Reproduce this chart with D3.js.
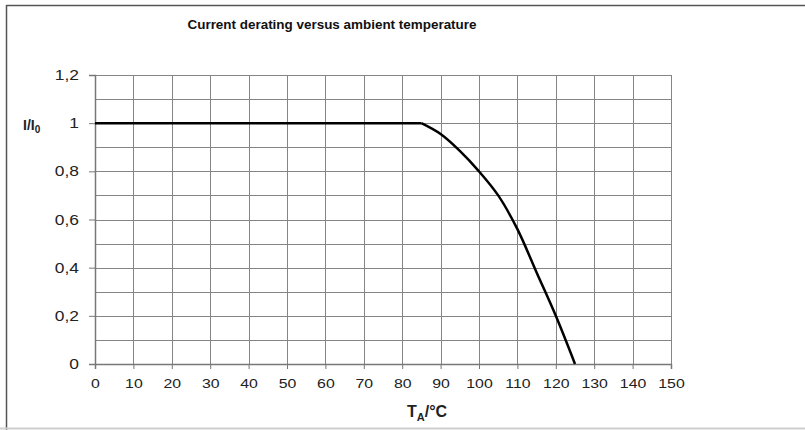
<!DOCTYPE html>
<html>
<head>
<meta charset="utf-8">
<script src="https://cdn.jsdelivr.net/npm/d3@7"></script>
<style>
  html, body { margin: 0; padding: 0; background: #fff; }
  svg { display: block; }
</style>
</head>
<body>
<svg id="chart" width="805" height="430"></svg>
<script>
// ---- data ----
const temperature = [0, 85, 90, 95, 100, 105, 110, 115, 120, 125];
const derating    = [1, 1, 0.955, 0.885, 0.80, 0.70, 0.56, 0.38, 0.2, 0];
const xTickValues = [0, 10, 20, 30, 40, 50, 60, 70, 80, 90, 100, 110, 120, 130, 140, 150];
const yTickValues = [0, 0.2, 0.4, 0.6, 0.8, 1, 1.2];
const yTickLabels = ["0", "0,2", "0,4", "0,6", "0,8", "1", "1,2"];
const titleText = "Current derating versus ambient temperature";

const W = 805, H = 430;
const svg = d3.select("#chart");

svg.append("rect").attr("width", W).attr("height", H).attr("fill", "#fff");

// frame
svg.append("line").attr("x1", 6.5).attr("x2", W).attr("y1", 5.5).attr("y2", 5.5)
  .attr("stroke", "#555").attr("stroke-width", 1.5);
svg.append("line").attr("x1", 6.5).attr("x2", 6.5).attr("y1", 5).attr("y2", H)
  .attr("stroke", "#555").attr("stroke-width", 1.5);
svg.append("line").attr("x1", 0).attr("x2", W).attr("y1", 428.5).attr("y2", 428.5)
  .attr("stroke", "#cfcfcf").attr("stroke-width", 2);

const x = d3.scaleLinear().domain([0, 150]).range([95, 671]);
const y = d3.scaleLinear().domain([0, 1.2]).range([364, 75]);

// grid
const gridColor = "#858585";
const g = svg.append("g");
g.selectAll("line.vg").data(d3.range(0, 151, 10)).enter().append("line")
  .attr("x1", d => Math.round(x(d)) + 0.5).attr("x2", d => Math.round(x(d)) + 0.5)
  .attr("y1", y(1.2)).attr("y2", y(0))
  .attr("stroke", gridColor).attr("stroke-width", 1);
g.selectAll("line.hg").data(d3.range(0, 13).map(i => i / 10)).enter().append("line")
  .attr("x1", x(0)).attr("x2", x(150))
  .attr("y1", d => Math.round(y(d)) + 0.5).attr("y2", d => Math.round(y(d)) + 0.5)
  .attr("stroke", gridColor).attr("stroke-width", 1);

// axes
const xAxis = d3.axisBottom(x).tickValues(xTickValues).tickSize(5).tickPadding(10)
  .tickFormat(d3.format("d"));
const gx = svg.append("g").attr("transform", `translate(0,${y(0)})`).call(xAxis);
gx.select(".domain").attr("stroke", "#777").attr("stroke-width", 1.5);
gx.selectAll(".tick line").attr("stroke", "#777");
gx.selectAll(".tick text")
  .attr("font-family", "Liberation Sans, Arial, sans-serif").attr("font-size", 13)
  .attr("fill", "#222").attr("dy", "0.71em")
  .attr("transform", "scale(1.22,1)");

const yAxis = d3.axisLeft(y).tickValues(yTickValues).tickSize(6).tickPadding(10)
  .tickFormat((d, i) => yTickLabels[i]);
const gy = svg.append("g").attr("transform", `translate(${x(0)},0)`).call(yAxis);
gy.select(".domain").attr("stroke", "#777").attr("stroke-width", 1.5);
gy.selectAll(".tick line").attr("stroke", "#777");
gy.selectAll(".tick text")
  .attr("font-family", "Liberation Sans, Arial, sans-serif").attr("font-size", 14.5)
  .attr("fill", "#222")
  .attr("x", -16 / 1.2)
  .attr("transform", "scale(1.2,1)");

// curve
const pts = temperature.map((t, i) => [t, derating[i]]);
const flat = pts.filter(p => p[0] <= 85);
const decline = pts.filter(p => p[0] >= 85);
const lineLin = d3.line().x(d => x(d[0])).y(d => y(d[1]));
const lineSmooth = d3.line().x(d => x(d[0])).y(d => y(d[1])).curve(d3.curveCatmullRom.alpha(0.5));
svg.append("path").attr("d", lineLin(flat)).attr("fill", "none")
  .attr("stroke", "#000").attr("stroke-width", 2.5);
svg.append("path").attr("d", lineSmooth(decline)).attr("fill", "none")
  .attr("stroke", "#000").attr("stroke-width", 2.5).attr("stroke-linejoin", "round");

// title
svg.append("text").attr("x", 332).attr("y", 28.5).attr("text-anchor", "middle")
  .attr("font-family", "Liberation Sans, Arial, sans-serif").attr("font-weight", "bold")
  .attr("font-size", 12.5).attr("fill", "#111")
  .attr("textLength", 289).attr("lengthAdjust", "spacingAndGlyphs")
  .text(titleText);

// y label I/I0
const yl = svg.append("text").attr("x", 23).attr("y", 130)
  .attr("font-family", "Liberation Sans, Arial, sans-serif").attr("font-weight", "bold")
  .attr("font-size", 14).attr("fill", "#222");
yl.append("tspan").text("I/I");
yl.append("tspan").attr("dy", 3).attr("font-size", 10).text("0");

// x label TA/°C
const xl = svg.append("text").attr("x", 407).attr("y", 417)
  .attr("font-family", "Liberation Sans, Arial, sans-serif").attr("font-weight", "bold")
  .attr("font-size", 16).attr("fill", "#222");
xl.append("tspan").text("T");
xl.append("tspan").attr("dy", 4).attr("font-size", 11).text("A");
xl.append("tspan").attr("dy", -4).text("/°C");
</script>
</body>
</html>
